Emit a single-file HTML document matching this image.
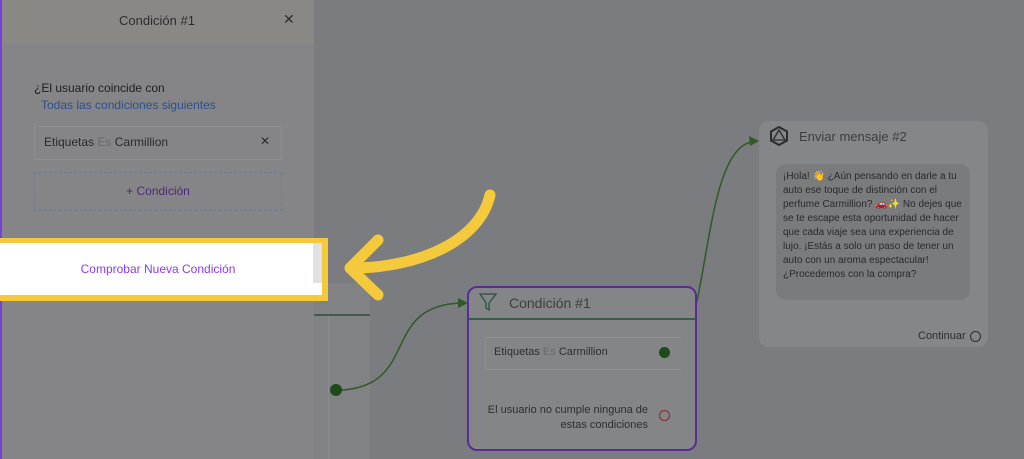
<!DOCTYPE html>
<html><head><meta charset="utf-8"><style>
body{margin:0;width:1024px;height:459px;overflow:hidden;background:#7b7c7f;font-family:"Liberation Sans",sans-serif;position:relative}
.a{position:absolute}
</style></head><body>
<div class="a" style="left:314px;top:283px;width:56px;height:176px;background:#818284"></div>
<div class="a" style="left:314px;top:314px;width:56px;height:2px;background:#3f5d4c"></div>
<div class="a" style="left:328px;top:316px;width:1px;height:143px;background:#8b8c8e"></div>
<div class="a" style="left:330px;top:384px;width:12px;height:12px;border-radius:50%;background:#1f4a1a"></div>
<svg class="a" style="left:0;top:0" width="1024" height="459">
<path d="M342,390 C420,385 380,305 462,303" stroke="#2f5a25" stroke-width="1.5" fill="none"/>
<polygon points="468,303 458,298 458,308" fill="#2f5a25"/>
<path d="M670,353 C710,350 700,150 752,142" stroke="#2f5a25" stroke-width="1.5" fill="none"/>
<polygon points="759,141 749,136 750,146" fill="#2f5a25"/>
</svg>
<div class="a" style="left:467px;top:286px;width:226px;height:161px;border:2px solid #5a2d96;border-radius:10px;background:#848587"></div>
<div class="a" style="left:469px;top:318px;width:226px;height:2px;background:#3a5d4a"></div>
<svg class="a" style="left:478px;top:292px" width="20" height="20"><path d="M2,2 H18 L11,11 V18 L8,16 V11 Z" fill="none" stroke="#35594a" stroke-width="1.5"/></svg>
<div class="a" style="left:509px;top:295px;font-size:14px;color:#3e3e40">Condición #1</div>
<div class="a" style="left:485px;top:337px;width:195px;height:31px;border:1px solid #8d8e90;border-right:none"></div>
<div class="a" style="left:494px;top:346px;font-size:11px;color:#2e2e30">Etiquetas <span style="color:#6a6a6c">Es</span> Carmillion</div>
<div class="a" style="left:659px;top:347px;width:11px;height:11px;border-radius:50%;background:#1f4a1a"></div>
<div class="a" style="left:470px;top:403px;width:178px;text-align:right;font-size:11px;line-height:15px;color:#2e2e30">El usuario no cumple ninguna de estas condiciones</div>
<div class="a" style="left:659px;top:410px;width:9px;height:9px;border-radius:50%;border:1.5px solid #8a2a2a"></div>
<div class="a" style="left:759px;top:121px;width:229px;height:226px;border-radius:10px;background:#858688"></div>
<svg class="a" style="left:768px;top:125px" width="22" height="22"><polygon points="11,2 19,6.5 19,15.5 11,20 3,15.5 3,6.5" fill="none" stroke="#2c2c2e" stroke-width="2"/><polygon points="11,5 17,15 5,15" fill="none" stroke="#2c2c2e" stroke-width="1.3"/></svg>
<div class="a" style="left:799px;top:129px;font-size:13px;color:#3e3e40">Enviar mensaje #2</div>
<div class="a" style="left:776px;top:164px;width:194px;height:136px;border-radius:10px;background:#7a7b7d"></div>
<div class="a" style="left:783px;top:170px;width:185px;font-size:10px;line-height:14px;color:#2a2a2c">¡Hola! 👋 ¿Aún pensando en darle a tu auto ese toque de distinción con el perfume Carmillion? 🚗✨ No dejes que se te escape esta oportunidad de hacer que cada viaje sea una experiencia de lujo. ¡Estás a solo un paso de tener un auto con un aroma espectacular! ¿Procedemos con la compra?</div>
<div class="a" style="left:918px;top:330px;font-size:11px;color:#2e2e30">Continuar</div>
<div class="a" style="left:970px;top:331px;width:9px;height:9px;border-radius:50%;border:1.3px solid #2e2e30"></div>
<div class="a" style="left:0;top:0;width:314px;height:459px;background:#858587"></div>
<div class="a" style="left:0;top:0;width:314px;height:43px;background:#8a8884"></div>
<div class="a" style="left:0;top:0;width:2px;height:459px;background:#7a3fd6"></div>
<div class="a" style="left:0;top:13px;width:314px;text-align:center;font-size:13px;color:#2e2e30">Condición #1</div>
<div class="a" style="left:283px;top:11px;font-size:14px;color:#2e2e30">✕</div>
<div class="a" style="left:34px;top:81px;font-size:12px;color:#1e1e20">¿El usuario coincide con</div>
<div class="a" style="left:41px;top:98px;font-size:12px;color:#2b4f8c">Todas las condiciones siguientes</div>
<div class="a" style="left:34px;top:126px;width:246px;height:32px;border:1px solid #8e8e90"></div>
<div class="a" style="left:44px;top:135px;font-size:12px;color:#2a2a2c">Etiquetas <span style="color:#6a6a6c">Es</span> Carmillion</div>
<div class="a" style="left:260px;top:134px;font-size:12px;color:#2e2e30">✕</div>
<div class="a" style="left:34px;top:172px;width:246px;height:37px;border:1px dashed #6f7a90"></div>
<div class="a" style="left:34px;top:184px;width:248px;text-align:center;font-size:12px;color:#4a2a7a">+ Condición</div>
<div class="a" style="left:0;top:238px;width:322px;height:52px;border:solid #f5c93c;border-width:5px 6px 6px 0;background:#fff"></div>
<div class="a" style="left:313px;top:243px;width:9px;height:40px;background:#e0e1e4"></div>
<div class="a" style="left:0;top:262px;width:316px;text-align:center;font-size:12px;color:#8a3cf0">Comprobar Nueva Condición</div>
<svg class="a" style="left:0;top:0" width="1024" height="459">
<path d="M490,195 C480,240 420,268 352,268" stroke="#f5c93c" stroke-width="11" fill="none" stroke-linecap="round"/>
<path d="M378,240 L350,268 L378,295" stroke="#f5c93c" stroke-width="11" fill="none" stroke-linecap="round" stroke-linejoin="round"/>
</svg>
</body></html>
